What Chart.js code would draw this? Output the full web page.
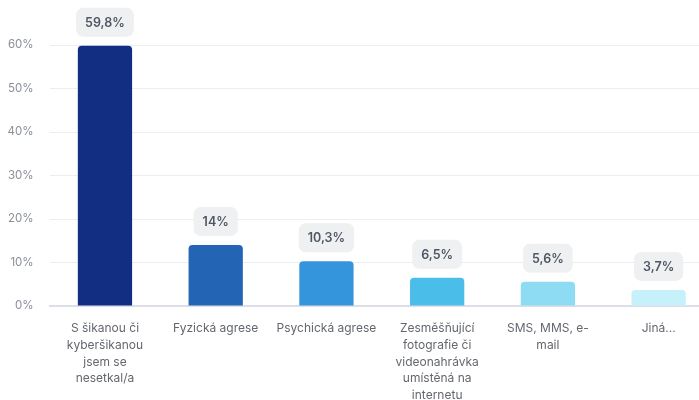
<!DOCTYPE html>
<html>
<head>
<meta charset="utf-8">
<script src="https://cdn.jsdelivr.net/npm/chart.js@4/dist/chart.umd.min.js"></script>
<style>
  html, body { margin: 0; padding: 0; background: #fff; overflow: hidden; }
  #wrap { width: 716px; height: 400px; position: relative; }
</style>
</head>
<body>
<div id="wrap"><canvas id="c"></canvas></div>
<script>
// Setkání se šikanou — sloupcový graf
const LABELS = [
  ['S šikanou či', 'kyberšikanou', 'jsem se', 'nesetkal/a'],
  'Fyzická agrese',
  'Psychická agrese',
  ['Zesměšňující', 'fotografie či', 'videonahrávka', 'umístěná na', 'internetu'],
  ['SMS, MMS, e-', 'mail'],
  'Jiná...'
];
const VALUES = [59.8, 14, 10.3, 6.5, 5.6, 3.7];
const COLORS = ['#112e82', '#2364b5', '#3494dc', '#4bbde9', '#8ddcf3', '#c6f0fa'];
const Y_TICKS = [0, 10, 20, 30, 40, 50, 60];

const fmt = v => String(v).replace('.', ',') + '%';

// štítky s hodnotou nad sloupci
const valueBoxes = {
  id: 'valueBoxes',
  afterDatasetsDraw(chart) {
    const ctx = chart.ctx;
    const meta = chart.getDatasetMeta(0);
    ctx.save();
    ctx.font = '600 12.5px Inter, "Noto Sans", sans-serif';
    ctx.textAlign = 'center';
    ctx.textBaseline = 'middle';
    meta.data.forEach((bar, i) => {
      const txt = fmt(VALUES[i]);
      const w = ctx.measureText(txt).width + 18;
      const h = 29;
      const x = bar.x - w / 2, y = bar.y - 9 - h;
      ctx.fillStyle = '#eef0f2';
      ctx.beginPath();
      ctx.roundRect(x, y, w, h, 7);
      ctx.fill();
      ctx.fillStyle = '#505763';
      ctx.fillText(txt, bar.x, y + h / 2 + 1);
    });
    ctx.restore();
  }
};

new Chart(document.getElementById('c'), {
  type: 'bar',
  data: {
    labels: LABELS,
    datasets: [{
      data: VALUES,
      backgroundColor: COLORS,
      borderRadius: { topLeft: 4, topRight: 4 },
      borderSkipped: 'bottom',
      barPercentage: 0.7,
      categoryPercentage: 0.7
    }]
  },
  options: {
    responsive: true,
    maintainAspectRatio: false,
    animation: false,
    layout: { padding: { top: 45, left: 8, right: 2, bottom: 0 } },
    plugins: { legend: { display: false }, tooltip: { enabled: false } },
    scales: {
      x: {
        afterFit: s => { s.height = 94; },
        grid: { display: false },
        border: { display: true, color: '#dcdfe8', width: 2 },
        ticks: {
          color: '#63676e',
          padding: 6,
          maxRotation: 0,
          autoSkip: false,
          font: { family: 'Inter, "Noto Sans", sans-serif', size: 12, lineHeight: '16.8px' }
        }
      },
      y: {
        min: 0,
        max: 60,
        afterBuildTicks: s => { s.ticks = Y_TICKS.map(v => ({ value: v })); },
        afterFit: s => { s.width = 41.6; },
        grid: { color: '#eceef2', drawTicks: false },
        border: { display: false },
        ticks: {
          color: '#8a8f98',
          padding: 16,
          font: { family: 'Inter, "Noto Sans", sans-serif', size: 11.5 },
          callback: v => v + '%'
        }
      }
    }
  },
  plugins: [valueBoxes]
});
</script>
</body>
</html>
